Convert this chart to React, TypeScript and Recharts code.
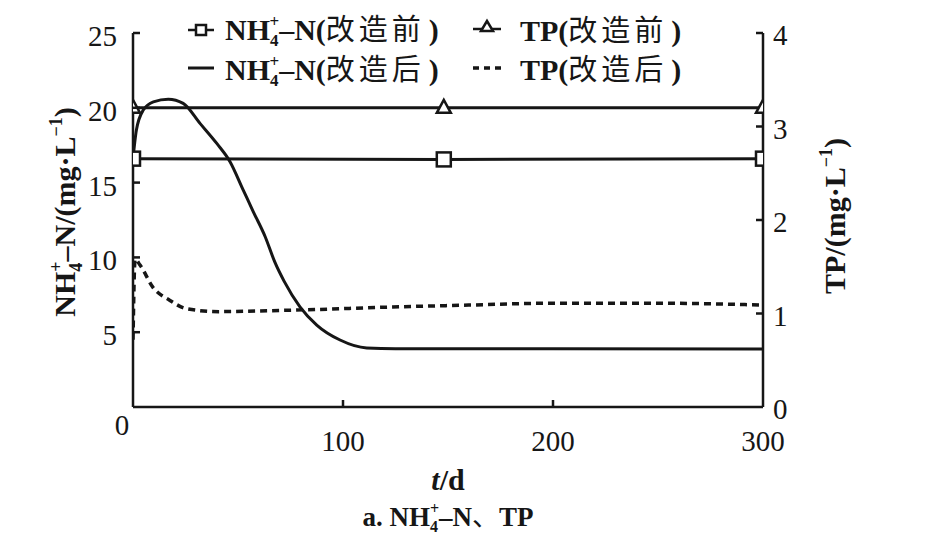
import React from 'react';
import { LineChart, Line, XAxis, YAxis, Legend } from 'recharts';

// ---------- data ----------
const xTicks = [0, 100, 200, 300];
const leftTicks = [5, 10, 15, 20, 25];
const rightTicks = [0, 1, 2, 3, 4];

const nh4BeforeDays = [0, 148, 300];
const nh4BeforeValues = [16.6, 16.55, 16.6];

const tpBeforeDays = [0, 148, 300];
const tpBeforeValues = [3.2, 3.2, 3.2];

const nh4AfterDays = [0, 1.6, 4.9, 9.7, 16.8, 23.9, 31.9, 40, 46.2, 52.5, 57.3, 62.9, 67.5, 72, 79.5, 87.5, 98.6, 111.3, 125, 200, 300];
const nh4AfterValues = [16.6, 18.5, 19.85, 20.4, 20.57, 20.3, 18.96, 17.6, 16.4, 14.5, 13.05, 11.4, 9.7, 8.4, 6.7, 5.48, 4.48, 3.95, 3.9, 3.9, 3.88];

const tpAfterDays = [0, 1, 3.3, 9.5, 17.6, 25.6, 41, 65, 83, 118, 160, 200, 250, 300];
const tpAfterValues = [0.72, 1.58, 1.52, 1.28, 1.14, 1.05, 1.02, 1.03, 1.04, 1.066, 1.09, 1.11, 1.11, 1.09];

const toRows = (days: number[], vals: number[]) => days.map((t, i) => ({ t, v: vals[i] }));
const nh4BeforeRows = toRows(nh4BeforeDays, nh4BeforeValues);
const tpBeforeRows = toRows(tpBeforeDays, tpBeforeValues);
const nh4AfterRows = toRows(nh4AfterDays, nh4AfterValues);
const tpAfterRows = toRows(tpAfterDays, tpAfterValues);

// ---------- style ----------
const SERIF = '"Liberation Serif", "Times New Roman", serif';
const CJK = '"Noto Sans CJK SC", sans-serif';
const INK = '#161616';
const AX = 2.5;

function LeftTick(props: any) {
  const { x, y, payload } = props;
  const axisX = x + 16;
  return (
    <g>
      <line x1={axisX} x2={axisX + 7} y1={y} y2={y} stroke={INK} strokeWidth={AX} />
      <text x={x} y={y + 3} textAnchor="end" dominantBaseline="central" fontFamily={SERIF} fontSize={29} fill={INK}>
        {payload.value}
      </text>
    </g>
  );
}

function RightTick(props: any) {
  const { x, y, payload } = props;
  const axisX = x - 10;
  return (
    <g>
      {payload.value > 0 && (
        <line x1={axisX} x2={axisX - 7} y1={y} y2={y} stroke={INK} strokeWidth={AX} />
      )}
      <text x={x} y={y + 2} textAnchor="start" dominantBaseline="central" fontFamily={SERIF} fontSize={29} fill={INK}>
        {payload.value}
      </text>
    </g>
  );
}

function BottomTick(props: any) {
  const { x, y, payload } = props;
  const v = payload.value;
  const isZero = v === 0;
  return (
    <g>
      {v > 0 && v < 300 && <line x1={x} x2={x} y1={y} y2={y - 7} stroke={INK} strokeWidth={AX} />}
      <text
        x={isZero ? x - 11 : x}
        y={isZero ? y + 18 : y + 34}
        textAnchor="middle"
        dominantBaseline="central"
        fontFamily={SERIF}
        fontSize={29}
        fill={INK}
      >
        {v}
      </text>
    </g>
  );
}

function LeftLabel() {
  const cx = 75;
  const cy = 212;
  return (
    <text
      x={cx}
      y={cy}
      transform={`rotate(-90, ${cx}, ${cy})`}
      textAnchor="middle"
      fontFamily={SERIF}
      fontWeight="bold"
      fontSize={30}
      fill={INK}
    >
      NH
      <tspan fontSize={18} dy={7}>4</tspan>
      <tspan fontSize={18} dx={-9} dy={-20}>+</tspan>
      <tspan dy={13}>–N/(mg·L</tspan>
      <tspan fontSize={18} dy={-13}>−1</tspan>
      <tspan dy={13}>)</tspan>
    </text>
  );
}

function RightLabel() {
  const cx = 845;
  const cy = 216;
  return (
    <text
      x={cx}
      y={cy}
      transform={`rotate(-90, ${cx}, ${cy})`}
      textAnchor="middle"
      fontFamily={SERIF}
      fontWeight="bold"
      fontSize={30}
      fill={INK}
    >
      TP/(mg·L
      <tspan fontSize={18} dy={-13}>−1</tspan>
      <tspan dy={13}>)</tspan>
    </text>
  );
}

function BottomLabel() {
  return (
    <g>
      <text x={448} y={490} textAnchor="middle" fontFamily={SERIF} fontWeight="bold" fontSize={30} fill={INK}>
        <tspan fontStyle="italic">t</tspan>/d
      </text>
      <text x={448} y={526} textAnchor="middle" fontFamily={SERIF} fontWeight="bold" fontSize={27} fill={INK}>
        a. NH
        <tspan fontSize={16} dy={6}>4</tspan>
        <tspan fontSize={16} dx={-8} dy={-18}>+</tspan>
        <tspan dy={12}>–N</tspan>
        <tspan fontFamily={CJK} fontWeight="normal">、</tspan>
        <tspan>TP</tspan>
      </text>
    </g>
  );
}

function LegendText({ x, y, nh4, stage }: { x: number; y: number; nh4: boolean; stage: string }) {
  return (
    <text x={x} y={y} fontFamily={SERIF} fontWeight="bold" fontSize={30} fill={INK}>
      {nh4 ? (
        <>
          NH
          <tspan fontSize={17} dy={6}>4</tspan>
          <tspan fontSize={17} dx={-9} dy={-19}>+</tspan>
          <tspan dy={13}>–N(</tspan>
        </>
      ) : (
        <>TP(</>
      )}
      <tspan fontFamily={CJK} fontWeight="normal" fontSize={29} letterSpacing={4}>{stage}</tspan>
      <tspan dx={4}>)</tspan>
    </text>
  );
}

function LegendContent() {
  return (
    <svg width={942} height={100} style={{ display: 'block' }}>
      <line x1={188} x2={214} y1={30} y2={30} stroke={INK} strokeWidth={2.5} />
      <rect x={196} y={25} width={10} height={10} fill="#fff" stroke={INK} strokeWidth={2.5} />
      <LegendText x={225} y={40} nh4={true} stage="改造前" />
      <line x1={188} x2={214} y1={68} y2={68} stroke={INK} strokeWidth={3} />
      <LegendText x={225} y={80} nh4={true} stage="改造后" />
      <line x1={473} x2={501} y1={29} y2={29} stroke={INK} strokeWidth={2.5} />
      <polygon points="487,21 481,31 493,31" fill="#fff" stroke={INK} strokeWidth={2.5} />
      <LegendText x={520} y={41} nh4={false} stage="改造前" />
      <line x1={473} x2={501} y1={68} y2={68} stroke={INK} strokeWidth={3.5} strokeDasharray="6 5" />
      <LegendText x={520} y={80} nh4={false} stage="改造后" />
    </svg>
  );
}

const SquareDot = (p: any) => (
  <rect key={`sq-${p.index}`} x={p.cx - 7} y={p.cy - 7} width={14} height={14} fill="#fff" stroke={INK} strokeWidth={2.5} />
);

const TriangleDot = (p: any) => (
  <polygon
    key={`tr-${p.index}`}
    points={`${p.cx},${p.cy - 8} ${p.cx - 7},${p.cy + 5} ${p.cx + 7},${p.cy + 5}`}
    fill="#fff"
    stroke={INK}
    strokeWidth={2.5}
  />
);

export default function App() {
  return (
    <div style={{ position: 'absolute', left: 0, top: 0, width: 942, height: 560, background: '#fff' }}>
      <LineChart width={942} height={560} margin={{ top: 33, right: 119, bottom: 93, left: 73 }}>
        <XAxis
          dataKey="t"
          type="number"
          domain={[0, 300]}
          ticks={xTicks}
          interval={0}
          height={60}
          tickSize={0}
          tickMargin={0}
          tick={<BottomTick />}
          tickLine={false}
          axisLine={{ stroke: INK, strokeWidth: AX }}
          label={<BottomLabel />}
          allowDataOverflow
        />
        <YAxis
          yAxisId="left"
          domain={[0, 25]}
          ticks={leftTicks}
          interval={0}
          width={60}
          tickSize={0}
          tickMargin={16}
          tick={<LeftTick />}
          tickLine={false}
          axisLine={{ stroke: INK, strokeWidth: AX }}
          label={<LeftLabel />}
          allowDataOverflow
        />
        <YAxis
          yAxisId="right"
          orientation="right"
          domain={[0, 4]}
          ticks={rightTicks}
          interval={0}
          width={60}
          tickSize={0}
          tickMargin={10}
          tick={<RightTick />}
          tickLine={false}
          axisLine={{ stroke: INK, strokeWidth: AX }}
          label={<RightLabel />}
          allowDataOverflow
        />
        <Legend
          layout="horizontal"
          verticalAlign="middle"
          align="center"
          wrapperStyle={{ position: 'absolute', top: 0, left: 0, width: 942, height: 100 }}
          content={<LegendContent />}
        />
        <Line
          yAxisId="left"
          data={nh4AfterRows}
          dataKey="v"
          type="monotone"
          stroke={INK}
          strokeWidth={3}
          dot={false}
          isAnimationActive={false}
        />
        <Line
          yAxisId="right"
          data={tpAfterRows}
          dataKey="v"
          type="monotone"
          stroke={INK}
          strokeWidth={3.5}
          strokeDasharray="7 5"
          dot={false}
          isAnimationActive={false}
        />
        <Line
          yAxisId="left"
          data={nh4BeforeRows}
          dataKey="v"
          type="linear"
          stroke={INK}
          strokeWidth={3}
          dot={SquareDot}
          isAnimationActive={false}
        />
        <Line
          yAxisId="right"
          data={tpBeforeRows}
          dataKey="v"
          type="linear"
          stroke={INK}
          strokeWidth={3}
          dot={TriangleDot}
          isAnimationActive={false}
        />
      </LineChart>
    </div>
  );
}
